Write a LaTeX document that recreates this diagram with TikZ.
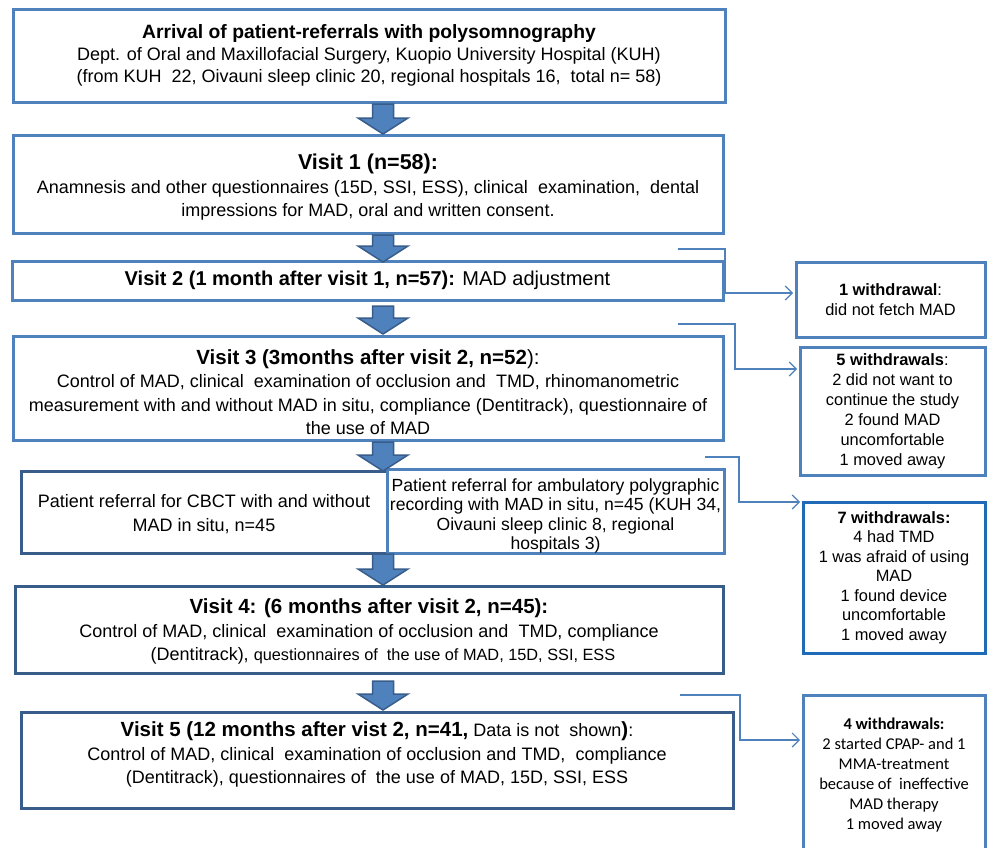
\documentclass[tikz,border=0pt]{standalone}
\usepackage{fontspec}
\setmainfont{Liberation Sans}
\newfontfamily\calibrifont{Carlito}
\usetikzlibrary{arrows.meta}
\definecolor{lb}{RGB}{79,129,189}
\definecolor{db}{RGB}{56,93,138}
\definecolor{wb}{RGB}{31,107,184}
\newcommand\blockarr[3]{\draw[barrow] (#1-10.5,#2) -- (#1+10.5,#2) -- (#1+10.5,#3-16) -- (#1+25,#3-16) -- (#1,#3) -- (#1-25,#3-16) -- (#1-10.5,#3-16) -- cycle;}
\newcommand\ttl[1]{{\fontsize{20.5}{23}\selectfont\bfseries #1}}
\begin{document}
\begin{tikzpicture}[x=1pt,y=-1pt,
 box/.style={draw=lb,line width=3pt,fill=white,rectangle,inner sep=0pt,align=center,font=\fontsize{18}{23.5}\selectfont},
 dbox/.style={box,draw=db},
 wbox/.style={box,font=\fontsize{16.4}{20}\selectfont},
 conn/.style={draw=lb,line width=1.2pt,-{Straight Barb[length=7pt,width=14pt]},shorten >=1.5pt},
 barrow/.style={fill=lb,draw=db,line width=1.5pt,line join=miter}]
\useasboundingbox (0,0) rectangle (987,847);
\clip (0,0) rectangle (987,847);
\fill[white] (0,0) rectangle (987,847);
% main column
\node[box,minimum width=712,minimum height=93,font=\fontsize{18}{22}\selectfont] (b0) at (369,55.5)
 {{\fontsize{19.3}{22}\selectfont\bfseries Arrival of patient-referrals with polysomnography}\\Dept. of Oral and Maxillofacial Surgery, Kuopio University Hospital (KUH)\\(from KUH\ \ 22, Oivauni sleep clinic 20, regional hospitals 16,\ \ total n= 58)};
\node[box,minimum width=710,minimum height=98] (b1) at (368,184)
 {\rule{0pt}{22pt}{\fontsize{21.5}{24}\selectfont\bfseries Visit 1 (n=58):}\\Anamnesis and other questionnaires (15D, SSI, ESS), clinical\ \ examination,\ \ dental\\impressions for MAD, oral and written consent.};
\node[box,minimum width=711,minimum height=39,font=\fontsize{20}{23}\selectfont] (b2) at (367.5,280.5)
 {\textbf{Visit 2 (1 month after visit 1, n=57):} MAD adjustment};
\node[box,minimum width=710,minimum height=104] (b3) at (368,388)
 {\rule{0pt}{23pt}\ttl{Visit 3 (3months after visit 2, n=52}\fontsize{20.5}{23}\selectfont):\\Control of MAD, clinical\ \ examination of occlusion and\ \ TMD, rhinomanometric\\measurement with and without MAD in situ, compliance (Dentitrack), questionnaire of\\the use of MAD};
\node[dbox,minimum width=366,minimum height=82] (b4a) at (204,512)
 {\rule{0pt}{17pt}Patient referral for CBCT with and without\\MAD in situ, n=45};
\node[box,minimum width=337,minimum height=81,font=\fontsize{17.6}{19.5}\selectfont] (b4b) at (555.5,511.5)
 {\rule{0pt}{22pt}Patient referral for ambulatory polygraphic\\recording with MAD in situ, n=45 (KUH 34,\\Oivauni sleep clinic 8, regional\\hospitals 3)};
\node[dbox,minimum width=708,minimum height=87] (b5) at (369,629.5)
 {\rule{0pt}{19pt}\ttl{Visit 4: (6 months after visit 2, n=45):}\\Control of MAD, clinical\ \ examination of occlusion and\ \ TMD, compliance\\\hspace*{28pt}(Dentitrack), {\fontsize{16.3}{23}\selectfont questionnaires of\ \ the use of MAD, 15D, SSI, ESS}};
\node[dbox,minimum width=712,minimum height=96] (b6) at (377,760)
 {\ttl{Visit 5 (12 months after vist 2, n=41,} Data is not\ \ shown\ttl{)}:\\Control of MAD, clinical\ \ examination of occlusion and TMD,\ \ compliance\\(Dentitrack), questionnaires of\ \ the use of MAD, 15D, SSI, ESS\rule[-14pt]{0pt}{14pt}};
% withdrawal boxes
\node[wbox,minimum width=189,minimum height=75] (w1) at (890.5,299.5)
 {\textbf{1 withdrawal}:\\did not fetch MAD};
\node[wbox,minimum width=185,minimum height=128] (w2) at (892.5,411)
 {\textbf{5 withdrawals}:\\2 did not want to\\continue the study\\2 found MAD\\uncomfortable\\1 moved away};
\node[wbox,draw=wb,minimum width=182,minimum height=151,font=\fontsize{16.4}{19.5}\selectfont] (w3) at (894,577.5)
 {\textbf{7 withdrawals:}\\4 had TMD\\1 was afraid of using\\MAD\\1 found device\\uncomfortable\\1 moved away};
\node[wbox,minimum width=182,minimum height=161,font=\calibrifont\fontsize{16.5}{20}\selectfont] (w4) at (894,775.5)
 {\textbf{4 withdrawals:}\\2 started CPAP- and 1\\MMA-treatment\\because of\ \ ineffective\\MAD therapy\\1 moved away};
% block arrows
\blockarr{383}{104}{134}
\blockarr{383}{235}{262}
\blockarr{383}{306}{334}
\blockarr{383}{442}{471}
\blockarr{383}{554}{585}
\blockarr{383}{681}{710}
% side connectors
\coordinate (c1) at (678,249);
\coordinate (c2) at (678,324);
\coordinate (c3) at (705,457);
\coordinate (c4) at (680,695);
\draw[conn] (c1) -- (725,249) -- (725,293) -- (w1.west |- 0,293);
\draw[conn] (c2) -- (735,324) -- (735,369) -- (w2.west |- 0,369);
\draw[conn] (c3) -- (739,457) -- (739,502) -- (w3.west |- 0,502);
\draw[conn] (c4) -- (740,695) -- (740,740) -- (w4.west |- 0,740);
\end{tikzpicture}
\end{document}
